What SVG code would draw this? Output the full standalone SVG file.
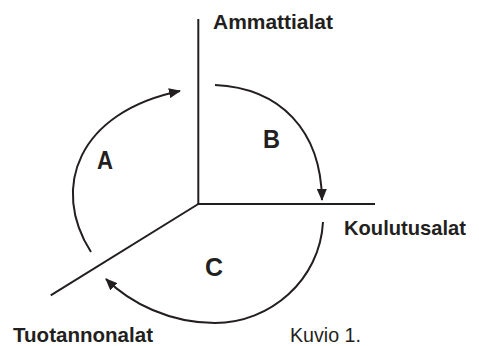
<svg xmlns="http://www.w3.org/2000/svg" width="479" height="346" viewBox="0 0 479 346">
<defs>
<style>
.ax{stroke:#231f20;stroke-width:2;fill:none;stroke-linecap:butt}
.arc{stroke:#231f20;stroke-width:2;fill:none}
.lbl{font-family:"Liberation Sans",Arial,sans-serif;font-weight:bold;font-size:21px;fill:#231f20}
.big{font-family:"Liberation Sans",Arial,sans-serif;font-weight:bold;font-size:26px;fill:#231f20}
.cap{font-family:"Liberation Sans",Arial,sans-serif;font-size:21px;fill:#231f20}
</style>
<marker id="ah" viewBox="0 0 12 10" refX="11" refY="5" markerWidth="12" markerHeight="10" markerUnits="userSpaceOnUse" orient="auto">
<path d="M0,0 L12,5 L0,10 Z" fill="#231f20"/>
</marker>
</defs>
<g id="axes">
<line class="ax" x1="198.3" y1="19" x2="198.3" y2="204"/>
<line class="ax" x1="197.3" y1="204" x2="375" y2="204"/>
<line class="ax" x1="198.3" y1="204" x2="50.7" y2="295.3"/>
</g>
<g id="connectors">
<path class="arc" d="M91,252 C50,188 78,112 180,91" marker-end="url(#ah)"/>
<path class="arc" d="M215,85 C280,88 321,130 322,200" marker-end="url(#ah)"/>
<path class="arc" d="M323,222 C320,280 270,323 215,323 C170,323 130,303 106,279" marker-end="url(#ah)"/>
</g>
<g id="node-ammattialat"><text class="lbl" x="213" y="29" textLength="120" lengthAdjust="spacingAndGlyphs">Ammattialat</text></g>
<g id="node-koulutusalat"><text class="lbl" x="344" y="235" textLength="122" lengthAdjust="spacingAndGlyphs">Koulutusalat</text></g>
<g id="node-tuotannonalat"><text class="lbl" x="13" y="342" textLength="140" lengthAdjust="spacingAndGlyphs">Tuotannonalat</text></g>
<g id="node-A"><text class="big" x="97" y="169" textLength="16" lengthAdjust="spacingAndGlyphs">A</text></g>
<g id="node-B"><text class="big" x="263" y="148" textLength="17" lengthAdjust="spacingAndGlyphs">B</text></g>
<g id="node-C"><text class="big" x="205" y="276" textLength="18" lengthAdjust="spacingAndGlyphs">C</text></g>
<g id="caption"><text class="cap" x="290" y="342" textLength="71" lengthAdjust="spacingAndGlyphs">Kuvio 1.</text></g>
</svg>
